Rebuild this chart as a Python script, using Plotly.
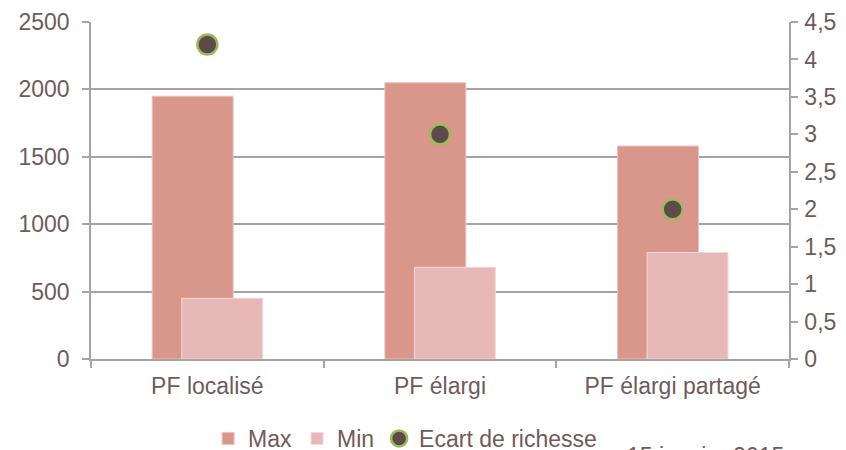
import plotly.graph_objects as go

categories = ["PF localisé", "PF élargi", "PF élargi partagé"]
max_vals = [1950, 2050, 1580]
min_vals = [450, 680, 790]
ecart = [4.2, 3.0, 2.0]
left_ticks = [0, 500, 1000, 1500, 2000, 2500]
right_ticks = [0, 0.5, 1, 1.5, 2, 2.5, 3, 3.5, 4, 4.5]

txt = "#6F5B5B"
grid = "#A9A2A2"
font = dict(family="Liberation Sans, Arial, sans-serif", size=23, color=txt)

fig = go.Figure()
fig.add_trace(go.Bar(x=categories, y=max_vals, name="Max", offset=-0.237, width=0.348,
                     marker=dict(color="#D9968A", line=dict(color="#ECC3BC", width=1))))
fig.add_trace(go.Bar(x=categories, y=min_vals, name="Min", offset=-0.11, width=0.348,
                     marker=dict(color="#E6B9B8", line=dict(color="#F2D8D7", width=1))))
fig.add_trace(go.Scatter(x=categories, y=ecart, name="Ecart de richesse", mode="markers", yaxis="y2",
                         marker=dict(size=20, color="#5E4A4B", line=dict(color="#9BBB59", width=2.5))))

fig.update_layout(
    width=846, height=450,
    margin=dict(l=83, r=65, t=14, b=99, autoexpand=False),
    paper_bgcolor="white", plot_bgcolor="white",
    font=font, separators=", ",
    barmode="overlay", showlegend=True,
    legend=dict(orientation="h", x=0.45, xanchor="center", y=-0.172, yanchor="top",
                font=font, traceorder="normal", tracegroupgap=0, itemwidth=30),
    xaxis=dict(type="category", tickson="boundaries", ticks="outside", ticklen=7,
               tickcolor=grid, tickwidth=1.5, showline=True, linecolor=grid, linewidth=1.5,
               showgrid=False, tickfont=font, range=[-0.5, 2.5], ticklabelstandoff=6),
    yaxis=dict(range=[0, 2500], tickvals=left_ticks, ticks="outside", ticklen=7, tickcolor=grid,
               tickwidth=1.5, showline=True, linecolor=grid, linewidth=1.5, showgrid=True,
               gridcolor=grid, gridwidth=1.5, zeroline=False, tickfont=font, ticklabelstandoff=8),
    yaxis2=dict(range=[0, 4.5], tickvals=right_ticks, overlaying="y", side="right", ticks="outside",
                ticklen=7, tickcolor=grid, tickwidth=1.5, showline=True, linecolor=grid, linewidth=1.5,
                showgrid=False, zeroline=False, tickfont=font, ticklabelstandoff=2),
)
fig.add_annotation(text="15 janvier 2015", xref="paper", yref="paper", x=0.765, y=-0.242,
                   xanchor="left", yanchor="top", showarrow=False, font=font)

fig.write_html("out.html")
